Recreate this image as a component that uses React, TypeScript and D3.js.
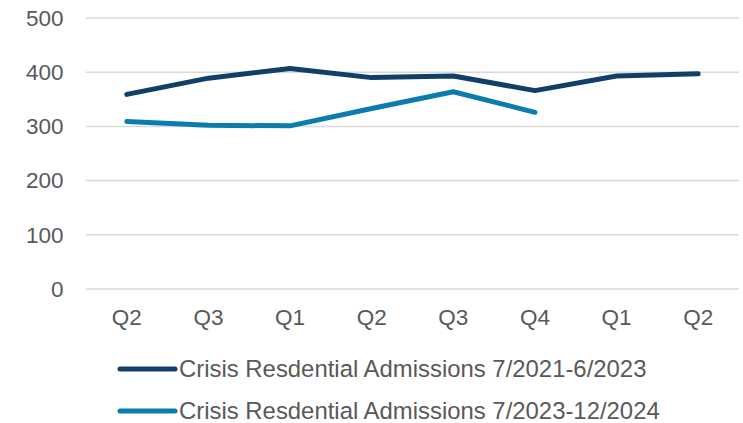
import React from "react";
import * as d3 from "d3";

const quarterLabels = ["Q2", "Q3", "Q1", "Q2", "Q3", "Q4", "Q1", "Q2"];
const series1Values = [359, 389, 407, 390, 393, 366, 393, 397];
const series2Values = [309, 302, 301, 333, 364, 326];
const yTicks = [0, 100, 200, 300, 400, 500];
const seriesNames = [
  "Crisis Resdential Admissions 7/2021-6/2023",
  "Crisis Resdential Admissions 7/2023-12/2024",
];
const seriesColors = ["#123F6A", "#0A7DAE"];

const W = 743;
const H = 423;
const FONT = "'Liberation Sans', Arial, sans-serif";
const TEXT = "#595959";

export default function App() {
  const x = d3
    .scaleBand<number>()
    .domain(quarterLabels.map((_, i) => i))
    .range([86, 739]);
  const y = d3.scaleLinear().domain([0, 500]).range([289, 18]);
  const cx = (i: number) => (x(i) as number) + x.bandwidth() / 2;

  const line = d3
    .line<number>()
    .x((_, i) => cx(i))
    .y((d) => y(d));

  const allSeries = [series1Values, series2Values];

  return (
    <svg
      width={W}
      height={H}
      style={{ position: "absolute", left: 0, top: 0, background: "#fff" }}
      fontFamily={FONT}
    >
      {yTicks.map((t) => (
        <g key={t}>
          <line x1={86} x2={739} y1={y(t)} y2={y(t)} stroke="#D9D9D9" strokeWidth={1.5} />
          <text x={63.5} y={y(t)} dy="0.35em" textAnchor="end" fontSize={22.5} fill={TEXT}>
            {t}
          </text>
        </g>
      ))}
      {quarterLabels.map((q, i) => (
        <text key={i} x={cx(i)} y={325} textAnchor="middle" fontSize={22.5} fill={TEXT}>
          {q}
        </text>
      ))}
      {allSeries.map((s, k) => (
        <path
          key={k}
          d={line(s) || ""}
          fill="none"
          stroke={seriesColors[k]}
          strokeWidth={5}
          strokeLinecap="round"
          strokeLinejoin="round"
        />
      ))}
      {seriesNames.map((name, k) => {
        const ly = 369 + k * 42;
        return (
          <g key={k}>
            <line x1={120} x2={175} y1={ly} y2={ly} stroke={seriesColors[k]} strokeWidth={5} strokeLinecap="round" />
            <text x={179} y={ly + 8.3} fontSize={23.9} fill={TEXT}>
              {name}
            </text>
          </g>
        );
      })}
    </svg>
  );
}
